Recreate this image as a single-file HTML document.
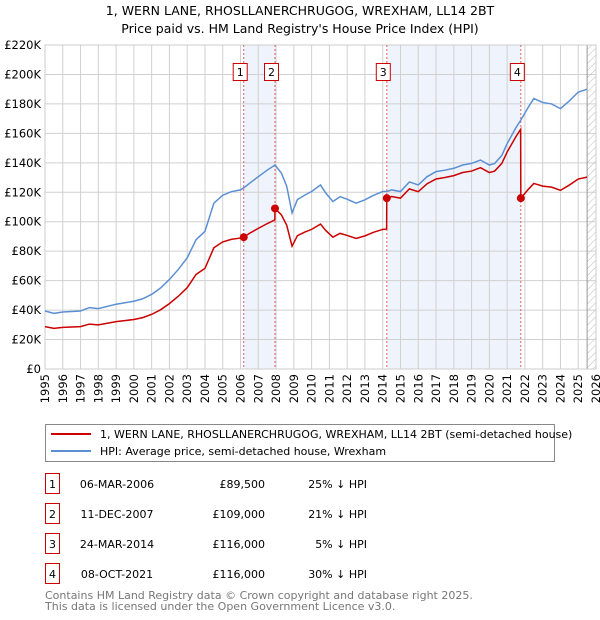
<!DOCTYPE html>
<html><head><meta charset="utf-8"><style>
body{margin:0;background:#fff;font-family:"Liberation Sans","DejaVu Sans",sans-serif;}
#wrap{position:relative;width:600px;height:620px;overflow:hidden;}
svg text{font-family:"DejaVu Sans","Liberation Sans",sans-serif;}
</style></head><body>
<div id="wrap">
<svg id="chart" width="600" height="620" xmlns="http://www.w3.org/2000/svg">
<defs><pattern id="hatch" patternUnits="userSpaceOnUse" width="5" height="5" patternTransform="rotate(45)"><line x1="0" y1="0" x2="0" y2="5" stroke="#bbb" stroke-width="1"/></pattern></defs>
<text x="300" y="15" text-anchor="middle" font-size="12.5" fill="#000">1, WERN LANE, RHOSLLANERCHRUGOG, WREXHAM, LL14 2BT</text>
<text x="300" y="33" text-anchor="middle" font-size="12.5" fill="#000">Price paid vs. HM Land Registry's House Price Index (HPI)</text>
<g id="plot"></g>
<g>
<rect x="45.5" y="424.5" width="509" height="37" fill="#fff" stroke="#888"/>
<line x1="51" y1="434" x2="91" y2="434" stroke="#cc0000" stroke-width="2"/>
<text x="100" y="438" font-size="11">1, WERN LANE, RHOSLLANERCHRUGOG, WREXHAM, LL14 2BT (semi-detached house)</text>
<line x1="51" y1="451" x2="91" y2="451" stroke="#5b8fd4" stroke-width="2"/>
<text x="100" y="455" font-size="11">HPI: Average price, semi-detached house, Wrexham</text>
</g>
<g id="table"></g>
<text x="45" y="599" font-size="11" fill="#777">Contains HM Land Registry data © Crown copyright and database right 2025.</text>
<text x="45" y="610" font-size="11" fill="#777">This data is licensed under the Open Government Licence v3.0.</text>
</svg>
</div>
<script>
const yTicks=[0,20,40,60,80,100,120,140,160,180,200,220];
const years=[1995,1996,1997,1998,1999,2000,2001,2002,2003,2004,2005,2006,2007,2008,2009,2010,2011,2012,2013,2014,2015,2016,2017,2018,2019,2020,2021,2022,2023,2024,2025,2026];
const hpiT=[1995,1995.5,1996,1997,1997.5,1998,1999,2000,2000.5,2001,2001.5,2002,2002.5,2003,2003.5,2004,2004.5,2005,2005.5,2006,2006.18,2006.5,2007,2007.5,2007.94,2008.3,2008.6,2008.9,2009.2,2009.6,2010,2010.5,2010.8,2011.2,2011.6,2012,2012.5,2013,2013.5,2014,2014.23,2014.5,2015,2015.5,2016,2016.5,2017,2017.5,2018,2018.5,2019,2019.5,2020,2020.3,2020.7,2021,2021.5,2021.77,2022.2,2022.5,2023,2023.5,2024,2024.5,2025,2025.5];
const hpiV=[39.4,37.8,38.7,39.4,41.7,41,44,46,47.7,50.7,55,60.8,67.6,75.5,87.8,93.5,112.6,118,120.5,121.6,123,126,130.6,135,138.5,133,124,106,115,118,120.5,125,119.4,113.7,117,115.3,112.6,114.9,118,120.5,120.5,121.6,120.5,127,125,130.6,134,135,136.3,138.5,139.6,141.9,138.5,139.6,145,153,164,169,178,183.6,181,180,176.8,182,188,190];
const redT=[1995,1995.5,1996,1997,1997.5,1998,1999,2000,2000.5,2001,2001.5,2002,2002.5,2003,2003.5,2004,2004.5,2005,2005.5,2006,2006.18,2006.5,2007,2007.5,2007.93,2007.94,2008.3,2008.6,2008.9,2009.2,2009.6,2010,2010.5,2010.8,2011.2,2011.6,2012,2012.5,2013,2013.5,2014,2014.22,2014.23,2014.5,2015,2015.5,2016,2016.5,2017,2017.5,2018,2018.5,2019,2019.5,2020,2020.3,2020.7,2021,2021.5,2021.76,2021.77,2022.2,2022.5,2023,2023.5,2024,2024.5,2025,2025.5];
const redV=[28.8,27.6,28.3,28.8,30.5,30,32.2,33.6,34.9,37.1,40.2,44.4,49.4,55.2,64.2,68.3,82.3,86.3,88.1,88.9,89.5,92.1,95.5,98.7,101.2,109,104.7,97.6,83.4,90.5,92.9,94.8,98.4,94,89.5,92.1,90.7,88.6,90.4,92.9,94.8,95,116,117.1,116,122.3,120.4,125.8,129,130,131.3,133.4,134.4,136.7,133.4,134.4,139.6,147.3,157.9,162.7,116,122.1,126,124.2,123.5,121.3,124.9,129,130.3];
const saleT=[2006.18,2007.94,2014.23,2021.77];
const saleV=[89.5,109,116,116];
const saleLabels=["1","2","3","4"];
const saleDates=["06-MAR-2006","11-DEC-2007","24-MAR-2014","08-OCT-2021"];
const salePrices=["£89,500","£109,000","£116,000","£116,000"];
const salePct=["25% ↓ HPI","21% ↓ HPI","5% ↓ HPI","30% ↓ HPI"];

const X0=45,X1=596,Y0=369,Y1=45;
const x=t=>X0+(t-1995)/(2026-1995)*(X1-X0);
const y=v=>Y0-v/220*(Y0-Y1);
const NS="http://www.w3.org/2000/svg";
const plot=document.getElementById('plot');
function mk(tag,attrs,parent){const e=document.createElementNS(NS,tag);for(const k in attrs)e.setAttribute(k,attrs[k]);(parent||plot).appendChild(e);return e;}
mk('rect',{x:X0,y:Y1,width:X1-X0,height:Y0-Y1,fill:'#fff'});
for(const [a,b] of [[0,1],[2,3]]){
 const r=mk('rect',{x:x(saleT[a]),y:Y1,width:x(saleT[b])-x(saleT[a]),height:Y0-Y1,fill:'#eef3fc'});
 
 
}
const hs=mk('rect',{x:x(2025.5),y:Y1,width:X1-x(2025.5),height:Y0-Y1,fill:'url(#hatch)'});


for(const v of yTicks){
 mk('line',{x1:X0,x2:X1,y1:y(v),y2:y(v),stroke:'#d0d0d0','stroke-width':1});
 const t=mk('text',{x:X0-4,y:y(v)+4,'text-anchor':'end','font-size':11.5,fill:'#000'});
 t.textContent=v===0?'£0':'£'+v+'K';
 
 
}
for(const yr of years){
 mk('line',{x1:x(yr),x2:x(yr),y1:Y1,y2:Y0,stroke:'#d0d0d0','stroke-width':1});
 const tx=x(yr)+4, ty=374;
 const t=mk('text',{x:tx,y:ty,'text-anchor':'end','font-size':11.5,fill:'#000',transform:'rotate(-90 '+tx+' '+ty+')'});
 t.textContent=yr;
 
 
}
mk('line',{x1:x(2025.5),x2:x(2025.5),y1:Y1,y2:Y0,stroke:'#999','stroke-width':1});
mk('rect',{x:X0,y:Y1,width:X1-X0,height:Y0-Y1,fill:'none',stroke:'#ccc'});
saleT.forEach((t,i)=>{
 const l=mk('line',{x1:x(t),x2:x(t),y1:Y1,y2:Y0,stroke:'#e06060','stroke-width':1,'stroke-dasharray':'2,2'});
 
 
});
const hp=mk('polyline',{points:hpiT.map((t,i)=>x(t)+','+y(hpiV[i])).join(' '),fill:'none',stroke:'#5b8fd4','stroke-width':1.5});


const rp=mk('polyline',{points:redT.map((t,i)=>x(t)+','+y(redV[i])).join(' '),fill:'none',stroke:'#cc0000','stroke-width':1.5});


saleT.forEach((t,i)=>{
 const c=mk('circle',{cx:x(t),cy:y(saleV[i]),r:4,fill:'#cc0000'});
 
 
 const g=mk('g',{});
 
 
 mk('rect',{x:x(t)-10.5,y:63.5,width:14,height:17,fill:'#fff',stroke:'#cc0000'},g);
 const tx=mk('text',{x:x(t)-3.5,y:76,'text-anchor':'middle','font-size':11},g);
 tx.textContent=saleLabels[i];
});
const tb=document.getElementById('table');
saleT.forEach((t,i)=>{
 const yy=488+i*30;
 const g=mk('g',{},tb);
 
 
 mk('rect',{x:45.5,y:yy-14.5,width:14,height:20,fill:'#fff',stroke:'#cc0000'},g);
 const a=mk('text',{x:52.5,y:yy,'text-anchor':'middle','font-size':11},g);a.textContent=saleLabels[i];
 const b=mk('text',{x:117,y:yy,'text-anchor':'middle','font-size':11},g);b.textContent=saleDates[i];
 const c=mk('text',{x:265,y:yy,'text-anchor':'end','font-size':11},g);c.textContent=salePrices[i];
 const d=mk('text',{x:367,y:yy,'text-anchor':'end','font-size':11},g);d.textContent=salePct[i];
});
</script>
</body></html>
